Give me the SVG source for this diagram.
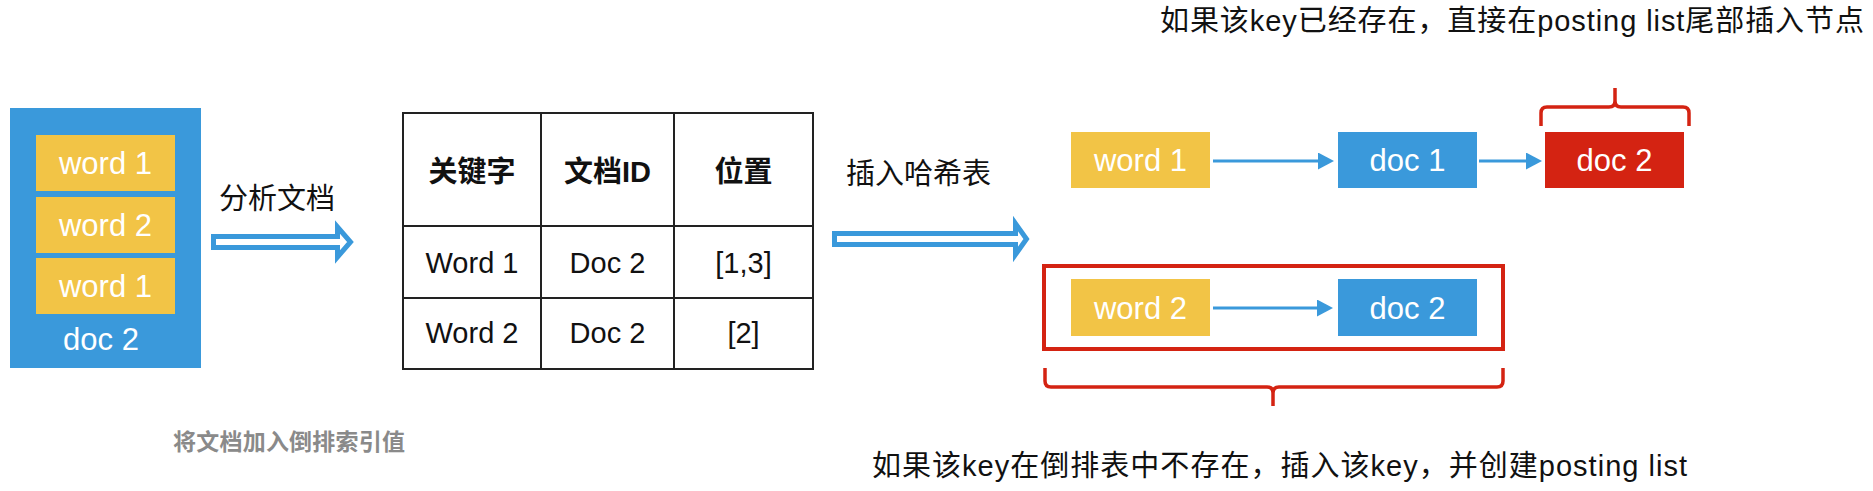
<svg xmlns="http://www.w3.org/2000/svg" width="1873" height="491" viewBox="0 0 1873 491">
<defs>
<style>
text{font-family:"Liberation Sans","Noto Sans CJK SC",sans-serif}
.lbl{fill:#fff;font-size:31px;text-anchor:middle}
.cap{fill:#111;font-size:29px}
.th{font-size:29px;font-weight:bold;text-anchor:middle;fill:#111}
.td{font-size:29px;text-anchor:middle;fill:#111}
.note{fill:#8a8a8a;font-size:23px;font-weight:600}
.blue{fill:#3A99DB}
.yellow{fill:#F2C446}
.red{fill:#D42312}
.grid{stroke:#222;stroke-width:2;fill:none}
.conn{stroke:#3A99DB;stroke-width:3;fill:none}
.hollow{fill:#fff;stroke:#3A99DB;stroke-width:5;stroke-linejoin:miter}
.brace{fill:none;stroke:#D42312;stroke-width:3.5}
.frame{fill:none;stroke:#D42312;stroke-width:4}
</style>
<marker id="ah" markerUnits="userSpaceOnUse" markerWidth="16" markerHeight="17" refX="2" refY="8.5" orient="auto"><path d="M0,0 L16,8.5 L0,17 Z" fill="#3A99DB"/></marker>
</defs>
<rect width="1873" height="491" fill="#fff"/>

<g id="document">
<rect class="blue" x="10" y="108" width="191" height="260"/>
<rect class="yellow" x="36" y="135" width="139" height="56"/>
<text class="lbl" x="105.5" y="174">word 1</text>
<rect class="yellow" x="36" y="197" width="139" height="56"/>
<text class="lbl" x="105.5" y="236">word 2</text>
<rect class="yellow" x="36" y="258" width="139" height="56"/>
<text class="lbl" x="105.5" y="297">word 1</text>
<text class="lbl" x="101" y="350">doc 2</text>
</g>

<g id="caption-doc">
<text class="note" x="173" y="450" textLength="232">将文档加入倒排索引值</text>
</g>

<g id="analyze-arrow">
<polygon class="hollow" points="213.5,236.5 337.5,236.5 337.5,227 350.5,242 337.5,257 337.5,247.5 213.5,247.5"/>
<text class="cap" x="277" y="209" text-anchor="middle">分析文档</text>
</g>

<g id="table">
<rect class="grid" x="403" y="113" width="410" height="256"/>
<line class="grid" x1="541" y1="113" x2="541" y2="369"/>
<line class="grid" x1="674" y1="113" x2="674" y2="369"/>
<line class="grid" x1="403" y1="226" x2="813" y2="226"/>
<line class="grid" x1="403" y1="298" x2="813" y2="298"/>
<text class="th" x="472" y="182">关键字</text>
<text class="th" x="607.5" y="182">文档ID</text>
<text class="th" x="743.5" y="182">位置</text>
<text class="td" x="472" y="273">Word 1</text>
<text class="td" x="607.5" y="273">Doc 2</text>
<text class="td" x="743.5" y="273">[1,3]</text>
<text class="td" x="472" y="343">Word 2</text>
<text class="td" x="607.5" y="343">Doc 2</text>
<text class="td" x="743.5" y="343">[2]</text>
</g>

<g id="insert-arrow">
<polygon class="hollow" points="834.5,233.5 1015.5,233.5 1015.5,223.5 1026.5,239 1015.5,254.5 1015.5,244.5 834.5,244.5"/>
<text class="cap" x="918.5" y="184" text-anchor="middle">插入哈希表</text>
</g>

<g id="word1">
<rect class="yellow" x="1071" y="132" width="139" height="56"/>
<text class="lbl" x="1140.5" y="171">word 1</text>
</g>
<g id="doc1">
<rect class="blue" x="1338" y="132" width="139" height="56"/>
<text class="lbl" x="1407.5" y="171">doc 1</text>
</g>
<g id="doc2-new">
<rect class="red" x="1545" y="132" width="139" height="56"/>
<text class="lbl" x="1614.5" y="171">doc 2</text>
</g>

<g id="new-key-frame">
<rect class="frame" x="1044" y="266" width="459" height="83"/>
</g>
<g id="word2">
<rect class="yellow" x="1071" y="279" width="139" height="57"/>
<text class="lbl" x="1140.5" y="318.5">word 2</text>
</g>
<g id="doc2">
<rect class="blue" x="1338" y="279" width="139" height="57"/>
<text class="lbl" x="1407.5" y="318.5">doc 2</text>
</g>

<g id="connectors">
<line class="conn" x1="1213" y1="161" x2="1320" y2="161" marker-end="url(#ah)"/>
<line class="conn" x1="1479" y1="161" x2="1528" y2="161" marker-end="url(#ah)"/>
<line class="conn" x1="1213" y1="308" x2="1319" y2="308" marker-end="url(#ah)"/>
</g>

<g id="top-brace">
<path class="brace" d="M1541,126 V113 Q1541,107 1547,107 H1609 Q1615,107 1615,101 V88 M1615,101 Q1615,107 1621,107 H1683 Q1689,107 1689,113 V126"/>
<text class="cap" x="1160" y="31" textLength="704">如果该key已经存在，直接在posting list尾部插入节点</text>
</g>

<g id="bottom-brace">
<path class="brace" d="M1045,368 V381 Q1045,387 1051,387 H1267 Q1273,387 1273,393 V406 M1273,393 Q1273,387 1279,387 H1497 Q1503,387 1503,381 V368"/>
<text class="cap" x="872" y="476" textLength="815">如果该key在倒排表中不存在，插入该key，并创建posting list</text>
</g>
</svg>
